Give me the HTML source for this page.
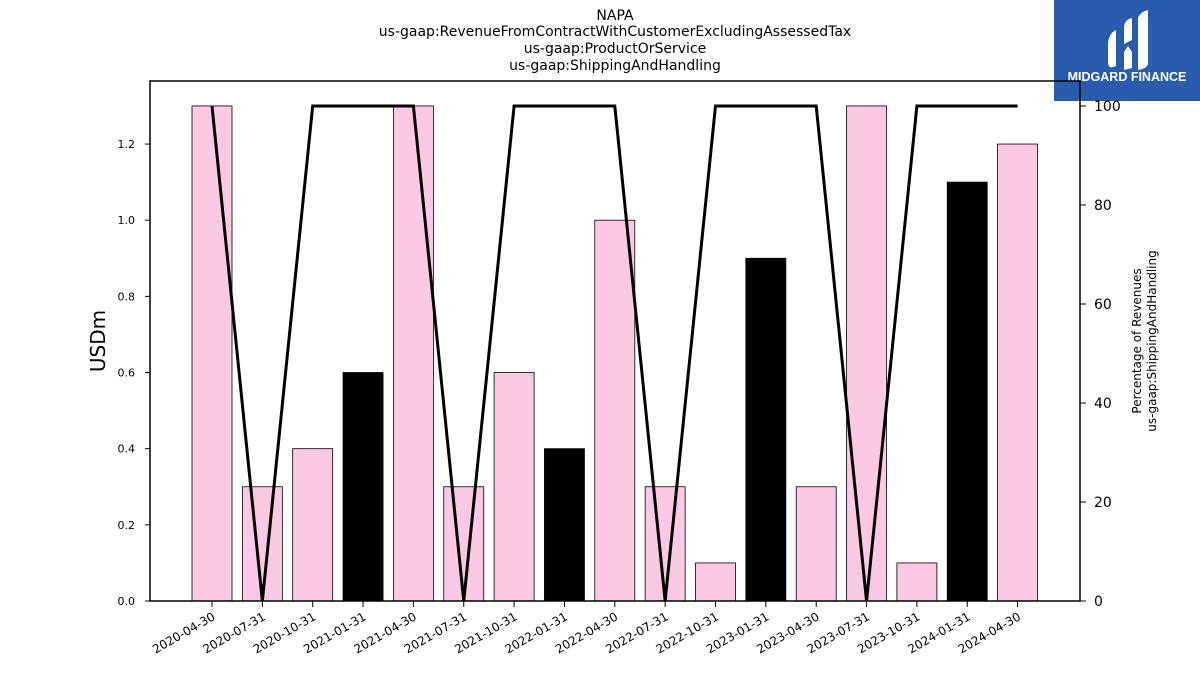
<!DOCTYPE html>
<html><head><meta charset="utf-8"><style>
body{margin:0;background:#fff;width:1200px;height:675px;overflow:hidden;font-family:"Liberation Sans","DejaVu Sans",sans-serif;}
</style></head><body>
<svg id="chart" width="1200" height="675" xmlns="http://www.w3.org/2000/svg" font-family="'DejaVu Sans','Liberation Sans',sans-serif">
<g font-size="14" text-anchor="middle" fill="#000">
<text x="615" y="20">NAPA</text>
<text x="615" y="36">us-gaap:RevenueFromContractWithCustomerExcludingAssessedTax</text>
<text x="615" y="53">us-gaap:ProductOrService</text>
<text x="615" y="70">us-gaap:ShippingAndHandling</text>
</g>
<g>
<rect x="1054" y="0" width="146" height="101" fill="#2a5cae"/>
<path d="M1108 45 Q1108 34 1116 30 L1116 66 Q1108 70 1108 62 Z" fill="#fff"/>
<path d="M1124 28 Q1124 20 1132 18 L1132 40 L1124 44 Z M1124 52 L1128 46 L1132 52 L1132 68 L1124 70 Z" fill="#fff"/>
<path d="M1138 18 Q1140 12 1148 10 L1148 64 Q1146 69 1138 70 Z" fill="#fff"/>
<text x="1127" y="81" font-size="12.5" font-weight="bold" fill="#fff" text-anchor="middle" font-family="'Liberation Sans',sans-serif">MIDGARD FINANCE</text>
</g>
<g id="bars"></g>
<g id="line"></g>
<g id="axes"></g>
</svg>
<script>
const categories=["2020-04-30","2020-07-31","2020-10-31","2021-01-31","2021-04-30","2021-07-31","2021-10-31","2022-01-31","2022-04-30","2022-07-31","2022-10-31","2023-01-31","2023-04-30","2023-07-31","2023-10-31","2024-01-31","2024-04-30"];
const revenue=[1.3,0.3,0.4,0.6,1.3,0.3,0.6,0.4,1.0,0.3,0.1,0.9,0.3,1.3,0.1,1.1,1.2];
const isAnnual=[false,false,false,true,false,false,false,true,false,false,false,true,false,false,false,true,false];
const shippingPct=[100,0,100,100,100,0,100,100,100,0,100,100,100,0,100,100,100];
const leftTicks=[0.0,0.2,0.4,0.6,0.8,1.0,1.2];
const rightTicks=[0,20,40,60,80,100];

const NS="http://www.w3.org/2000/svg";
const L=150,R=1080,T=81,B=601;
const x0=212,step=50.35;
function xPos(i){return x0+i*step;}
function yL(v){return B-v*380.8;}
function yR(v){return B-v*4.95;}
function mk(tag,attrs,parent){const e=document.createElementNS(NS,tag);for(const k in attrs)e.setAttribute(k,attrs[k]);parent.appendChild(e);return e;}
const bars=document.getElementById('bars'),line=document.getElementById('line'),axes=document.getElementById('axes');
revenue.forEach((v,i)=>{
  const r=mk('rect',{x:xPos(i)-20,y:yL(v),width:40,height:B-yL(v),fill:isAnnual[i]?'#000':'#fbc9e4',stroke:'#000','stroke-width':0.8},bars);
  
  
});
const pts=shippingPct.map((v,i)=>xPos(i)+','+yR(v)).join(' ');
const pl=mk('polyline',{points:pts,fill:'none',stroke:'#000','stroke-width':3,'stroke-linejoin':'miter'},line);


const frame=mk('path',{d:`M${L} ${T}L${R} ${T}L${R} ${B}L${L} ${B}Z`,fill:'none',stroke:'#000','stroke-width':1.5},axes);


leftTicks.forEach(v=>{
  const y=yL(v);
  mk('line',{x1:L-5,x2:L,y1:y,y2:y,stroke:'#000'},axes);
  const t=mk('text',{x:L-15,y:y+4,'font-size':11,'text-anchor':'end'},axes);
  t.textContent=v.toFixed(1);
  
  
});
rightTicks.forEach(v=>{
  const y=yR(v);
  mk('line',{x1:R,x2:R+6,y1:y,y2:y,stroke:'#000'},axes);
  const t=mk('text',{x:R+14,y:y+5,'font-size':14},axes);
  t.textContent=v;
  
  
});
categories.forEach((c,i)=>{
  const x=xPos(i);
  mk('line',{x1:x,x2:x,y1:B,y2:B+6,stroke:'#000'},axes);
  const t=mk('text',{x:x+4,y:B+18,'font-size':12,'text-anchor':'end',transform:`rotate(-30 ${x+4} ${B+18})`},axes);
  t.textContent=c;
  
  
});
const yt=mk('text',{x:105,y:341,'font-size':20,'text-anchor':'middle',transform:'rotate(-90 105 341)'},axes);
yt.textContent='USDm';


const rt=mk('text',{'font-size':12,'text-anchor':'middle',transform:'translate(1141,341) rotate(-90)'},axes);


const s1=mk('tspan',{x:0,y:0},rt);s1.textContent='Percentage of Revenues';
const s2=mk('tspan',{x:0,y:15},rt);s2.textContent='us-gaap:ShippingAndHandling';
</script>
</body></html>
